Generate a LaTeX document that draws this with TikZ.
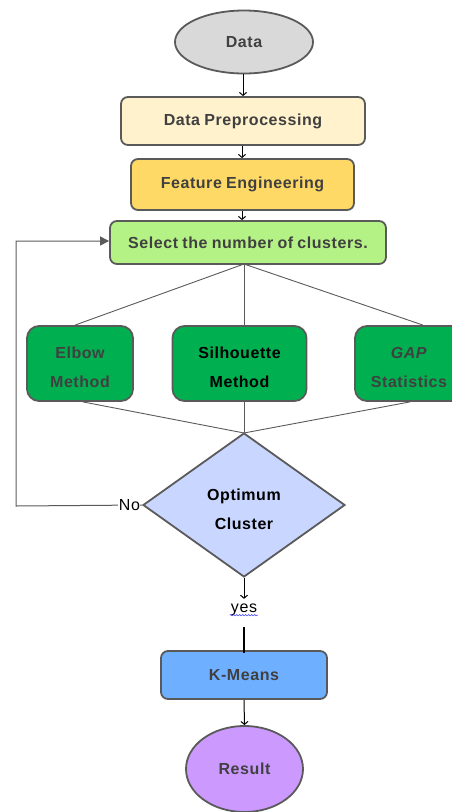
\documentclass[tikz,border=0pt]{standalone}
\usepackage{fontspec}
\setmainfont{Liberation Sans}[LetterSpace=3.5, WordSpace=0.85]
\usetikzlibrary{shapes.geometric,arrows.meta,decorations.pathmorphing}

\definecolor{edge}{HTML}{5A5A5A}
\definecolor{ink}{HTML}{404040}
\definecolor{dataC}{HTML}{D9D9D9}
\definecolor{preC}{HTML}{FFF2CC}
\definecolor{featC}{HTML}{FFD966}
\definecolor{selC}{HTML}{B5F286}
\definecolor{methC}{HTML}{00B050}
\definecolor{decC}{HTML}{C9D6FF}
\definecolor{kmC}{HTML}{6FAFFF}
\definecolor{resC}{HTML}{CC99FF}

% invisible strut that lowers two-line labels a little
\newcommand{\toppad}{\rule{0pt}{20pt}}

\tikzset{
  base/.style={draw=edge, line width=1.8pt, inner sep=0pt, align=center,
    text=ink, font=\fontsize{16}{29}\selectfont\bfseries},
  procbox/.style={base, rectangle, rounded corners=7pt},
  methbox/.style={base, rectangle, rounded corners=12pt, fill=methC,
    minimum width=106pt, minimum height=75pt},
  terminal/.style={base, ellipse},
  decision/.style={base, diamond, fill=decC, text=black},
  flow/.style={draw=black, line width=1pt, -{Straight Barb[length=3pt,width=7pt]}},
  link/.style={draw=edge, line width=0.9pt},
  loopline/.style={draw=edge, line width=1pt},
  lbl/.style={inner sep=1pt, font=\fontsize{16}{18}\selectfont, text=black}
}

\begin{document}
\begin{tikzpicture}[x=1pt,y=-1pt]
  \useasboundingbox (0,0) rectangle (452,812);

  % main column of steps
  \node[terminal, fill=dataC, minimum width=138pt, minimum height=63pt] (data) at (244,42) {Data};
  \node[procbox, fill=preC, minimum width=244pt, minimum height=48pt] (pre) at (243,121) {Data Preprocessing};
  \node[procbox, fill=featC, minimum width=223pt, minimum height=51pt] (feat) at (242.5,184.5) {Feature Engineering};
  \node[procbox, fill=selC, minimum width=276pt, minimum height=43pt] (sel) at (248,242.5) {Select the number of clusters.};

  % three ways of choosing k
  \node[methbox] (elbow) at (80,363.5) {\toppad Elbow\\Method};
  \node[methbox, minimum width=134pt, text=black] (sil) at (239.5,363.5) {\toppad Silhouette\\Method};
  \node[methbox, minimum width=108pt] (gap) at (409,363.5) {\toppad\textit{GAP}\\Statistics};

  \node[decision, minimum width=202pt, minimum height=144pt] (opt) at (244,505) {\toppad Optimum\\Cluster};

  \node[lbl] (yes) at (244,610) {yes};
  \node[procbox, fill=kmC, minimum width=166pt, minimum height=48pt] (km) at (244,675) {K-Means};
  \node[terminal, fill=resC, minimum width=117pt, minimum height=86pt] (res) at (244.5,769) {Result};

  % arrows down the column
  \draw[flow] (data.south -| 243,0) -- (pre.north -| 243,0);
  \draw[flow] (pre.south -| 242,0) -- (feat.north -| 242,0);
  \draw[flow] (feat.south -| 242,0) -- (sel.north -| 242,0);

  % fan-out to the methods and fan-in to the decision
  \coordinate (selb) at (244,264);
  \coordinate (optt) at (244,433);
  \draw[link] (selb) -- ([xshift=-5pt]elbow.north);
  \draw[link] (selb) -- (sil.north -| selb);
  \draw[link] (selb) -- ([xshift=14pt]gap.north);
  \draw[link] ([xshift=3pt]elbow.south) -- (optt);
  \draw[link] (sil.south -| optt) -- (optt);
  \draw[link] ([xshift=1pt]gap.south) -- (optt);

  % "No" loops back to the selection step
  \coordinate (lb) at (16,506);
  \coordinate (lt) at (16,241);
  \draw[loopline, -{Triangle[length=9pt,width=9pt]}] (opt.west)
    -- node[pos=0.1, lbl, fill=white, inner sep=0.5pt] (no) {No} (lb)
    -- (lt) -- (sel.west |- lt);

  % "yes" leads on to K-Means
  \draw[flow, shorten >=4pt] (opt.south) -- (yes.north);
  \draw[decorate, decoration={snake, amplitude=0.7pt, segment length=3pt}, blue!80, line width=0.5pt]
    ([yshift=2pt]yes.south west) -- ([yshift=2pt]yes.south east);
  \draw[draw=black, line width=2pt] ([yshift=-10pt]yes.south) -- ([yshift=-3pt]km.north);
  \draw[flow] (km.south) -- (res.north);
\end{tikzpicture}
\end{document}
